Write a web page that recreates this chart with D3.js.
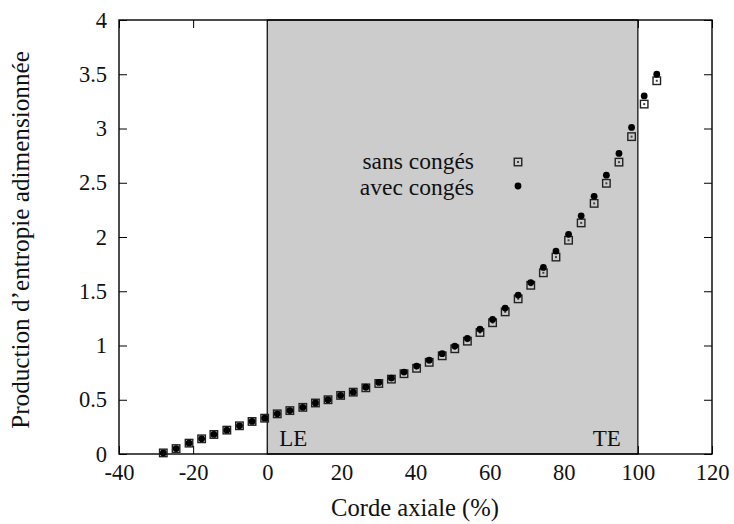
<!DOCTYPE html>
<html>
<head>
<meta charset="utf-8">
<script src="https://cdn.jsdelivr.net/npm/d3@7"></script>
<style>
  html, body { margin: 0; padding: 0; background: #fff; }
  svg { display: block; }
  text { font-family: "Liberation Serif", "Times New Roman", serif; fill: #111; }
</style>
</head>
<body>
<svg id="chart" width="734" height="524"></svg>
<script>
// ---- data ----
const chord = [-28.05, -24.6, -21.1, -17.7, -14.4, -10.9, -7.5, -4.1, -0.7, 2.7,
  6.1, 9.6, 13.0, 16.4, 19.8, 23.2, 26.6, 30.1, 33.5, 36.9,
  40.3, 43.7, 47.2, 50.6, 54.0, 57.4, 60.8, 64.2, 67.7, 71.1,
  74.5, 77.9, 81.3, 84.7, 88.2, 91.5, 94.9, 98.3, 101.7, 105.1];
const sansConges = [0.01, 0.05, 0.10, 0.14, 0.18, 0.22, 0.26, 0.30, 0.33, 0.37,
  0.40, 0.43, 0.47, 0.50, 0.54, 0.57, 0.61, 0.65, 0.69, 0.74,
  0.79, 0.845, 0.905, 0.97, 1.04, 1.12, 1.21, 1.31, 1.43, 1.555,
  1.67, 1.815, 1.97, 2.13, 2.31, 2.495, 2.69, 2.925, 3.225, 3.44];
const avecConges = [0.01, 0.05, 0.10, 0.14, 0.18, 0.22, 0.26, 0.30, 0.33, 0.37,
  0.40, 0.43, 0.47, 0.50, 0.54, 0.57, 0.615, 0.66, 0.70, 0.755,
  0.81, 0.865, 0.925, 0.995, 1.065, 1.15, 1.24, 1.345, 1.465, 1.58,
  1.72, 1.87, 2.025, 2.195, 2.375, 2.57, 2.77, 3.01, 3.30, 3.50];
const xTicks = [-40, -20, 0, 20, 40, 60, 80, 100, 120];
const yTicks = [0, 0.5, 1, 1.5, 2, 2.5, 3, 3.5, 4];
const bladeRegion = [0, 100];
const regionLabels = ["LE", "TE"];
const legendLabels = ["sans congés", "avec congés"];
const xTitle = "Corde axiale (%)";
const yTitle = "Production d\u2019entropie adimensionnée";

// ---- layout ----
const L = 119, R = 712, T = 20, B = 454;
const svg = d3.select("#chart");
const x = d3.scaleLinear().domain([-40, 120]).range([L, R]);
const y = d3.scaleLinear().domain([0, 4]).range([B, T]);

// ticks (inward, mirrored)
const fmt = d => String(d);
const gB = svg.append("g").attr("transform", `translate(0,${B})`)
  .call(d3.axisBottom(x).tickValues(xTicks).tickFormat(fmt).tickSizeInner(-8).tickSizeOuter(0).tickPadding(10));
const gT = svg.append("g").attr("transform", `translate(0,${T})`)
  .call(d3.axisTop(x).tickValues(xTicks).tickFormat("").tickSizeInner(-8).tickSizeOuter(0));
const gL = svg.append("g").attr("transform", `translate(${L},0)`)
  .call(d3.axisLeft(y).tickValues(yTicks).tickFormat(fmt).tickSizeInner(-8).tickSizeOuter(0).tickPadding(12));
const gR = svg.append("g").attr("transform", `translate(${R},0)`)
  .call(d3.axisRight(y).tickValues(yTicks).tickFormat("").tickSizeInner(-8).tickSizeOuter(0));
[gB, gT, gL, gR].forEach(g => {
  g.select(".domain").remove();
  g.selectAll(".tick line").attr("stroke", "#000").attr("stroke-width", 1);
  g.selectAll(".tick text").attr("font-size", 22.5).attr("font-family", "Liberation Serif").attr("fill", "#111");
});

// gray blade region
svg.append("rect")
  .attr("x", x(bladeRegion[0])).attr("y", T)
  .attr("width", x(bladeRegion[1]) - x(bladeRegion[0])).attr("height", B - T)
  .attr("fill", "#cccccc").attr("stroke", "#000").attr("stroke-width", 1.2);

// frame
svg.append("rect").attr("x", L).attr("y", T).attr("width", R - L).attr("height", B - T)
  .attr("fill", "none").attr("stroke", "#000").attr("stroke-width", 1.4);

// region labels
svg.append("text").attr("x", x(bladeRegion[0]) + 12).attr("y", B - 8)
  .attr("font-size", 23).text(regionLabels[0]);
svg.append("text").attr("x", x(bladeRegion[1]) - 17).attr("y", B - 8)
  .attr("text-anchor", "end").attr("font-size", 23).text(regionLabels[1]);

// markers
const sq = 7.5;
function drawSquare(g, cx, cy) {
  g.append("rect").attr("x", cx - sq / 2).attr("y", cy - sq / 2).attr("width", sq).attr("height", sq)
    .attr("fill", "none").attr("stroke", "#222").attr("stroke-width", 1.4);
  g.append("rect").attr("x", cx - 1).attr("y", cy - 1).attr("width", 2).attr("height", 2)
    .attr("fill", "#444");
}
function drawCircle(g, cx, cy) {
  g.append("circle").attr("cx", cx).attr("cy", cy).attr("r", 3.4).attr("fill", "#000");
}
const gS = svg.append("g");
chord.forEach((c, i) => drawSquare(gS, x(c), y(sansConges[i])));
const gC = svg.append("g");
chord.forEach((c, i) => drawCircle(gC, x(c), y(avecConges[i])));

// legend
const lg = svg.append("g");
const legendY = [161, 187];
legendLabels.forEach((t, i) => {
  lg.append("text").attr("x", 474).attr("y", legendY[i]).attr("dy", "0.33em")
    .attr("text-anchor", "end").attr("font-size", 23.5).text(t);
});
drawSquare(lg, 518, 162);
drawCircle(lg, 518, 186);

// axis titles
svg.append("text").attr("x", 415).attr("y", 516).attr("text-anchor", "middle")
  .attr("font-size", 24.6).text(xTitle);
svg.append("text").attr("transform", `translate(29,240) rotate(-90)`)
  .attr("text-anchor", "middle").attr("font-size", 25.2).text(yTitle);
</script>
</body>
</html>
